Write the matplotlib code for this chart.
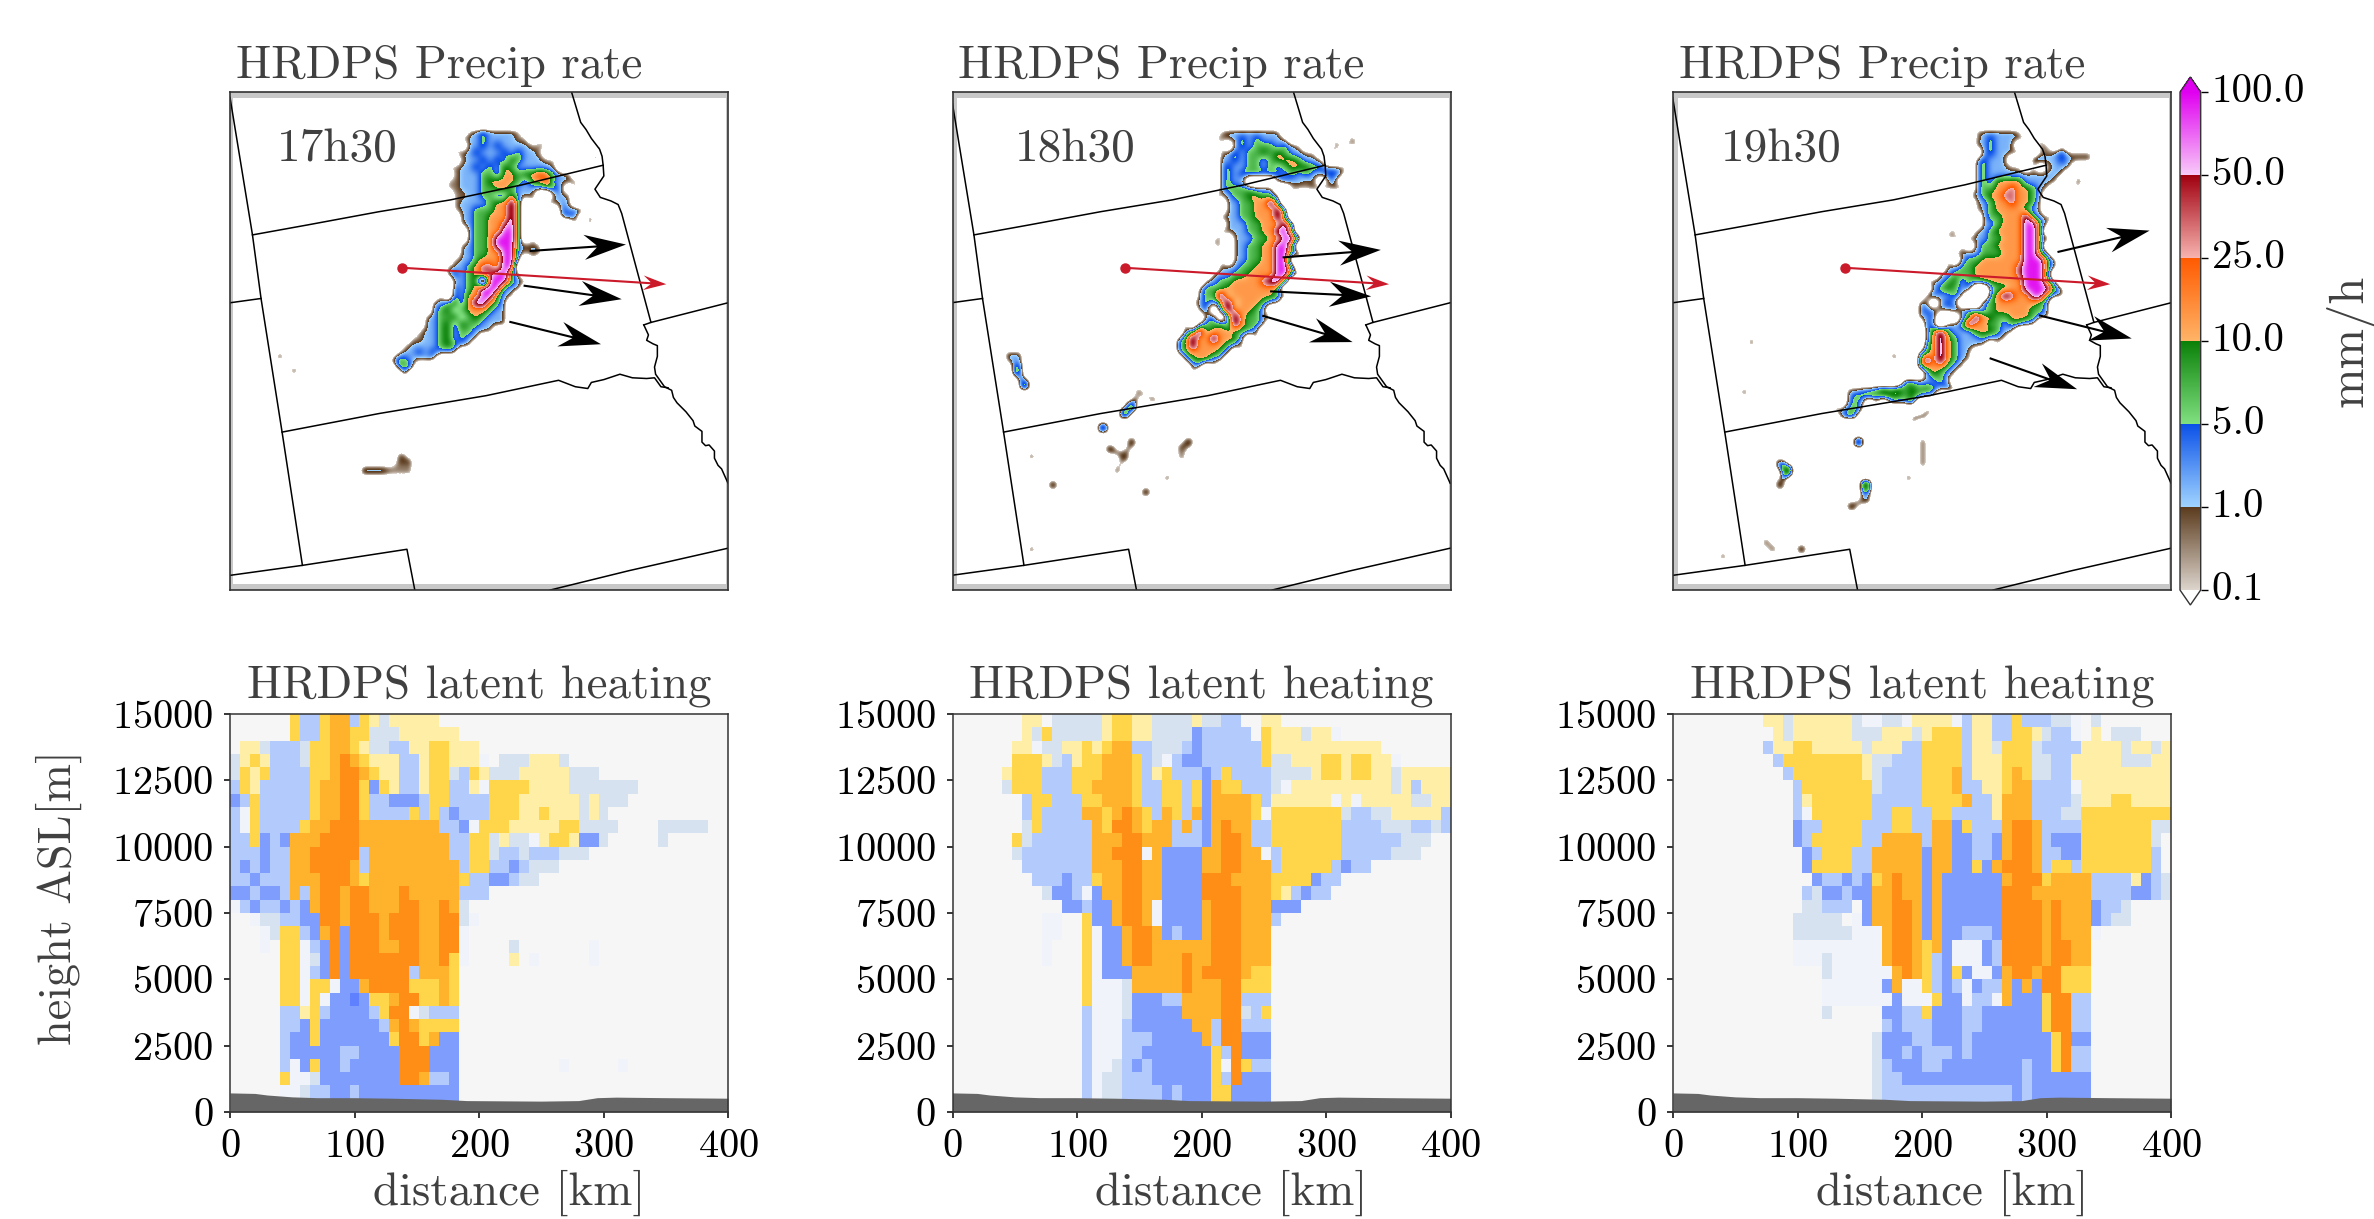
import numpy as np
import matplotlib
matplotlib.use("Agg")
import matplotlib.pyplot as plt
from matplotlib.colors import LinearSegmentedColormap, ListedColormap, BoundaryNorm, Normalize
from matplotlib.cm import ScalarMappable
from matplotlib.patches import Rectangle
from matplotlib.transforms import ScaledTranslation

plt.rcParams['font.family'] = ['cmr10', 'DejaVu Serif']
plt.rcParams['axes.formatter.use_mathtext'] = True

W, H = 2374, 1219
times = ["17h30", "18h30", "19h30"]
rate_labels = ["0.1", "1.0", "5.0", "10.0", "25.0", "50.0", "100.0"]
km_ticks = [0, 100, 200, 300, 400]
height_ticks = [0, 2500, 5000, 7500, 10000, 12500, 15000]

# terrain profile under the cross sections
terrain_km = [0, 20, 30, 50, 70, 100, 130, 170, 190, 250, 280, 295, 310, 350, 400]
terrain_m = [720, 700, 640, 570, 540, 540, 520, 480, 430, 410, 430, 540, 560, 540, 520]

# latent heating classes, one string per 500 m from the top, one char per 8 km
heat_levels = ".abcdefghi"
heat_colors = ["#f6f6f6", "#f0f3f9", "#d6e2f0", "#b3cafc", "#7f9dfd", "#5f80ff",
               "#ffefa6", "#ffd54a", "#ffb22c", "#ff8e16"]

heat_1 = [
    "..... .gccg hhcgf bffff f.... ..... ..... ..... ..... .....",
    "..... .gccg hhggb bbfff fff.. ..... ..... ..... ..... .....",
    ".ffbc ccbgg hhgfb bccff ggfff ..... ..... ..... ..... .....",
    "bfgfc ccbgg hihgf ffccf ggfff a.bbb fffb. ..... ..... .....",
    "bgfgc cccgg hiihg ffccf ggbcg fbbbf ffffb bb... ..... .....",
    "cgfcc cccgh hiigd gfccf ggccf agggg ffffb bbbbb b.... .....",
    "dcgcc cccgh hiigc cdddc ggccc cgggf fffff bfbbb ..... .....",
    "cagcc cccgh hiigc cccgc gcdcc cgggf fgfff bfb.. ..... .....",
    "cagcc ccghh iiihh hhhhh hccda gggff fffgg bbbb. ...bb bbb..",
    "ccgdc dhhhi iiihh hhhhh hhccg gbfbb afggf ddb.. ...b. .....",
    "cccdc chhii iiich hhhhh hhccg gbccb cccbb b.... ..... .....",
    "cdcdc chhii iihch hhhhh hhhcg gccdc bbb.. ..... ..... .....",
    "ccdcc chhhi iihgh hhhhh hhhgc cddcb b.... ..... ..... .....",
    "ddcdd chchi ihiih hhihh hhhcc c.... ..... ..... ..... .....",
    "acdcc dcdhi ihiih hhiih hihb. ..... ..... ..... ..... .....",
    "..abb ccddi ihiii hiiih hiiba ..... ..... ..... ..... .....",
    "...ab ggcdh idiii hiiih hiia. ..... ..... ..... ..... .....",
    "...a. ggacd idiii hhiih hiia. ...b. ..... .a... ..... .....",
    "..... ggabd idiii iiiih higa. ...f. a.... .a... ..... .....",
    "..... ggacd idiii iiich hhg.. ..... ..... ..... ..... .....",
    "..... ggagg addhi iiigg ghg.. ..... ..... ..... ..... .....",
    "..... ggaga ddedg ghiig ghg.. ..... ..... ..... ..... .....",
    "..... ccfgc ddddc giiab ccc.. ..... ..... ..... ..... .....",
    "..... ccdgd ddddd chihg ggg.. ..... ..... ..... ..... .....",
    "..... cddgd ddddd dgiig hdd.. ..... ..... ..... ..... .....",
    "..... cdddd dccdd ddiii ddd.. ..... ..... ..... ..... .....",
    "..... cadgd dcddd ddiii ddd.. ..... ...a. ....a ..... .....",
    "..... gaabd ddddd ddiih ccd.. ..... ..... ..... ..... .....",
    "..... aabcc ddcdd ddddd ddd.. ..... ..... ..... ..... .....",
    "..... aabcc ddcdd ddddd ddd.. ..... ..... ..... ..... .....",
]

heat_2 = [
    "..... ..ff. bbbbb fggff bbbbf bbcc. .ff.. ..... ..... .....",
    "..... ..fbg bbbbb fggff bbbbd ccccc .gfff bffa. ..... .....",
    "..... .ffab bffgf ghhcc bbbcd ccccc cgfff fffff fff.. .....",
    "..... .gggf bcfgg hhhgc bacdd ccccc cgbbf ffggf ggffa .....",
    "..... fgggc ccggg hhhgc fgccc dcgcc ccbbb bfggf ggffb fffff",
    "..... bgggc ccggh hhhgc cggcg dhggc ccbaf fffff ffffb fcfff",
    "..... ..cgg cccgg hhhgc cggcg dhhhh gcfff fffaf affff fbbff",
    "..... ..cgc ccchh ghihg chgch dhhhh gaggg ggggb ccbbf ffffc",
    "..... ..bgc cccch giihg hhchc dhihh ccggg ggggc cccbb bccbc",
    "..... .gbcc cccch hhiih hhccc dhiih ccggg ggggc ccccc bbb..",
    "..... .bccc cccch hiiia hdddd hhiih hacgg ggggc ccccb bb...",
    "..... ..ccc cccch hhiih hdddd hhiih hhcgg gggcd cc... .....",
    "..... ...cc cdccg hhiih hdddd iiihh hhggg gdcc. ..... .....",
    "..... ....b ddcad hhiih hdddd iiiih hhgfc dcc.. ..... .....",
    "..... ..... .ddcd dhiih adddd hiiih hhddd ..... ..... .....",
    "..... ....a a..gd dhiih adddd hiiih hhc.. ..... ..... .....",
    "..... ....a a..ga ddhii hdcdd hiiih hh... ..... ..... .....",
    "..... ....a ...ga ddhii hhhhh hiiih hh... ..... ..... .....",
    "..... ....a ...ga ddhii hhhih hiiih hh... ..... ..... .....",
    "..... ..... ...ga dddhh hhhih iiiih gg... ..... ..... .....",
    "..... ..... ...ga aabhh hhhih hhiig gg... ..... ..... .....",
    "..... ..... ...ga aabdd dcchh hhiic cc... ..... ..... .....",
    "..... ..... ...ca aabdd dddhh hhiib cg... ..... ..... .....",
    "..... ..... ...ca aacdd ddddh hciic cc... ..... ..... .....",
    "..... ..... ...ca aaccc ddddd hciid dd... ..... ..... .....",
    "..... ..... ...ca aaccd ddddd dgcid dd... ..... ..... .....",
    "..... ..... ...ca abcdc ddddd dgaig cc... ..... ..... .....",
    "..... ..... ...ca bbccc ddddd dgcid dd... ..... ..... .....",
    "..... ..... ...ca bbccc cdcdd dggdd dd... ..... ..... .....",
    "..... ..... ...ca bbccc cdcdd dggdd dd... ..... ..... .....",
]

heat_3 = [
    "..... ....f fbfff fffba abbaf fffac ffccg cccbb a.b.. .....",
    "..... ..... fbfff fffbb bfffb fgggc ffccg gfbcc a.f.b bb...",
    "..... ....c ffggf ffffb fffcc ggggc ffbgg gbccc cffff bffbf",
    "..... ..... cgggg ggggf bbccc ggggc fffgg gbbcc fffff bbbff",
    "..... ..... .cggg ggggf bcccc ggghc fffgh gbbcc fffff fffff",
    "..... ..... ..cgg ggggg bcccc ggghc cffgh hcccc affff fffff",
    "..... ..... ..cfg ggggg ccccc ggggh ccfhh hcccc bfffg gffff",
    "..... ..... ..cag ggggg ccggc cggcc ccfhh hcccb bgggg ggggg",
    "..... ..... ..dcc ggggc ccggc chhdg ccchi ihccc cgggg gggbb",
    "..... ..... ..dcg ggggc chhhh chhdd ccdhi ihcdd dgggg gggb.",
    "..... ..... ...dc gggcc hhhhh dhhdd ccdhi ihccd dgggg gggc.",
    "..... ..... ...dg gggcc hhhhh dhhdd gdhii ihcgg cgggg gggc.",
    "..... ..... ....d ccdcd ghihh dhddd dddhi iighh hhccc cfdcb",
    "..... ..... ...cb ddcdd hhihh dhddd dddii ihhhh hhccc cddcb",
    "..... ..... ...bb ccc.d hhiih dhddd dddii iihih hhdcc b....",
    "..... ..... ..bbb bb.ad hhiih dhddd dddii iihih hhdcb b....",
    "..... ..... ..bbb bbbaa ahiih dhddc ccdii iihih hha.. .....",
    "..... ..... ..aaa aaaaa ahiih ghdaa adcii iihii hh... .....",
    "..... ..... ..aaa baaaa ahiih gcdaa adcii iihii hh... .....",
    "..... ..... ..... baaaa aahih gcdgd aadhi ihiig gg... .....",
    "..... ..... ..... aaaaa adhaa gcdca dcchd hdiig gg... .....",
    "..... ..... ..... aaaaa aadaa agdda ccahd ddgii cc... .....",
    "..... ..... ..... b.... .ddcc gdddc cdddd ddgii cc... .....",
    "..... ..... ..... ..... .cdcc cdddc cdddd ddgii cc... .....",
    "..... ..... ..... ..... bdddc cdddc ddddd dddgi dd... .....",
    "..... ..... ..... ..... bddcd cccdc ddddd dddgi cc... .....",
    "..... ..... ..... ..... bcddd ccddd ddddd cddgi cc... .....",
    "..... ..... ..... ..... bccdd ddddd ddddd cdddd dd... .....",
    "..... ..... ..... ..... bcccc ccccc ccccd cdddd dd... .....",
    "..... ..... ..... ..... bcccc ccccc ccccd cdddd dd... .....",
]

# state borders, map coordinates of the first panel
border_lines = [
    ([82, 145, 169, 228, 285], [105, 490, 668, 1042, 1415]),
    ([145, 300, 500, 700, 900, 1128], [490, 462, 425, 392, 350, 295]),
    ([1040, 1050, 1065, 1080, 1095, 1118, 1125, 1128, 1130, 1105, 1120, 1150, 1170, 1180, 1262, 1478],
     [92, 125, 175, 195, 220, 250, 270, 295, 325, 362, 385, 395, 405, 430, 735, 680]),
    ([1242, 1262], [742, 735]),
    ([1242, 1255, 1250, 1268, 1280, 1280, 1272, 1275, 1300, 1320, 1325, 1335, 1360, 1380, 1385, 1405, 1405,
      1415, 1425, 1440, 1440, 1450, 1460, 1478],
     [742, 770, 785, 795, 800, 830, 860, 880, 915, 925, 945, 960, 985, 1010, 1025, 1040, 1070,
      1080, 1078, 1095, 1115, 1135, 1145, 1185]),
    ([228, 500, 800, 1003, 1050, 1085, 1095, 1130, 1175, 1210, 1250, 1272, 1290, 1310],
     [1042, 990, 940, 897, 915, 920, 903, 895, 880, 890, 892, 890, 915, 918]),
    ([82, 169], [680, 668]),
    ([82, 285, 578, 600], [1443, 1415, 1370, 1484]),
    ([980, 1200, 1478], [1484, 1430, 1367]),
]
border_shift = [0, -22, -18]

# frame of each map panel in map coordinates
map_xlim = [(82, 1478), (63, 1457), (65, 1460)]
map_ylim = (1484, 90)
white_left = [90, 75, 78]
white_right = [1472, 1453, 1455]
time_x = [218, 243, 203]

section_start = [(565, 582), (545, 582), (547, 582)]
section_end = [(1305, 628), (1285, 628), (1290, 628)]

wind_start = [
    [(922, 535), (905, 632), (865, 733)],
    [(987, 553), (952, 648), (930, 716)],
    [(1142, 538), (1090, 715), (952, 835)],
]
wind_end = [
    [(1192, 517), (1180, 670), (1122, 796)],
    [(1262, 532), (1235, 662), (1183, 790)],
    [(1400, 478), (1350, 780), (1197, 922)],
]

# precip rate classes on a 20 unit raster: . none, 0 trace, 1 light, 2 green,
# 3 orange, 4 red, 5 magenta
storm_1_origin = (520, 190)
storm_1 = [
    "...........01211110.....0",
    ".........00112111100.0...0",
    "......00.0.1121211110000...1.11",
    ".........0112111212110...1.1.1",
    "........0.01121213211100..1.11",
    "........0011212132111110",
    ".........01112213323343211",
    "........0011123333213341111",
    "........00111223321111221.1",
    ".........001122113111..111.1.1",
    ".........0111123352.0.1111",
    ".........0112223352.0...2121.2",
    "..........112233352.0...121.2",
    "..........112233452..0....1.2.1",
    "...........12233552.0.........1",
    ".........0.12235552.0",
    "........0.112235551110",
    ".......00.112233551011",
    "......00.0112333550.0",
    "......0.0112344355.1",
    "......0.12123445520.0",
    ".....0...1123.555211",
    ".........2123555211.....",
    ".......1.213355211....1",
    "......11231355321",
    "......12312333211",
    ".....112231232111",
    ".....112313221111",
    "....01123122111",
    "...0011231211",
    "..0111123211",
    ".011212111",
    "1221011",
    ".222",
    "..2",
]
spots_1 = [(205, 812, '0'), (238, 855, '0'), (545, 1085, '0'), (545, 1105, '1'), (565, 1105, '1'),
           (452, 1122, '1'), (492, 1128, '1'), (518, 1130, '0'), (555, 1135, '0'), (835, 630, '1')]

storm_2_origin = (640, 190)
storm_2 = [
    "........011111111.....1...0",
    ".......00112121110....1.1.00",
    "......0.0.1212221210..1.1000",
    "........01212232321100.10",
    "........112122123332110",
    "........1211221212333221100",
    "........121222222121211221",
    "........1211....121101.11.0",
    "........12222111..00011011",
    ".......0012233220.0.......00",
    ".......0.11223352",
    ".......0.112233352........0",
    "........1112233352........0...1",
    ".......0.1112233352.......0...1",
    "........01112233552.0.0.....0",
    ".......00.1112233552",
    ".......00.112233552",
    "........0.1122335521",
    "......0.0.11223355.1",
    "........11122333552",
    ".......1112233335520",
    "......112233334552",
    "...1.122233333332.1",
    ".....1225233333321",
    "....0121352333211",
    ".....12.2533321",
    "....1.12.2532211",
    "...1.1223153221",
    "...12523332221",
    "..1253353331.1",
    "..2253333210",
    "..12333321.0",
    "...123311.0",
    "....11.0.0",
    "....0",
]
spots_2 = [(205, 820, '1'), (225, 810, '1'), (232, 850, '2'), (245, 885, '2'), (565, 910, '0'), (605, 920, '0'),
           (520, 970, '2'), (550, 955, '2'), (470, 1020, '2'), (485, 1075, '1'), (545, 1060, '1'),
           (515, 1100, '1'), (510, 1130, '0'), (700, 1055, '1'), (675, 1065, '1'), (680, 1100, '0'),
           (650, 1150, '0'), (330, 1165, '1'), (590, 1190, '1'), (265, 1358, '0'), (270, 1095, '0')]

storm_3_origin = (470, 190)
storm_3 = [
    "......................0111110.0......1",
    "......................0121111000.......1",
    "......................112111...10.0",
    ".......................1211110.00120000",
    "......................12111...221121111",
    "......................1211100.0.0111",
    "......................1211111111111.0",
    ".................00...121333311111..11.0",
    "...................00.12233433210.1.1",
    ".....................01233443321..1.1",
    "......................0123343320.0...1",
    "....................0.0123333210.00",
    "....................00.12233352100",
    "...................0.0.1123335520",
    "..................00..1123333552",
    "..................0001112233355210",
    "....................0.1223333552",
    "...................01112223335521",
    "..................0.12233333355521",
    "..................1122333333455521",
    ".................1122233333345552",
    "...............0112312233333355521",
    "................123212..12233555521",
    "...............121121...23543355211",
    "..............11.121...2233333321",
    "..............1211121211233333221",
    "..............112...1253322333211",
    "...............21.1125332212211",
    "...............1352111333211",
    "...............135321112110",
    "...............235321110.0",
    "..............12353211...0.0",
    "..............25353210.0.0",
    "..............2333210.0",
    "...............13210.11",
    "............2211121",
    "....0011232323232121",
    "....1223233323211",
    "..1.121.1.1113",
    "..01221........11",
    "...122.......121",
    ".............1",
]
spots_3 = [(270, 770, '0'), (240, 910, '0'), (660, 810, '0'), (565, 1055, '2'), (755, 1040, '0'),
           (750, 1070, '0'), (735, 1105, '0'), (715, 1145, '0'), (350, 1115, '1'), (365, 1140, '3'),
           (350, 1180, '1'), (595, 1170, '3'), (575, 1200, '1'), (545, 1230, '1'), (295, 1335, '0'),
           (330, 1355, '0'), (398, 1358, '1'), (185, 1362, '0')]

rate_position = {'.': -4.0, '0': 0.55, '1': 1.25, '2': 2.45, '3': 3.3, '4': 4.6, '5': 5.9}

heat_grids = [heat_1, heat_2, heat_3]
storms = [storm_1, storm_2, storm_3]
storm_origins = [storm_1_origin, storm_2_origin, storm_3_origin]
storm_spots = [spots_1, spots_2, spots_3]

map_left = [230, 952.5, 1673]
panel_w = 498

precip_cmap = LinearSegmentedColormap.from_list("precip", [
    (0 / 6, "#dcd4cc"), (1 / 6, "#5a3a1c"),
    (1 / 6, "#a0d4ff"), (2 / 6, "#0a50e8"),
    (2 / 6, "#80e080"), (3 / 6, "#0a8008"),
    (3 / 6, "#ffb468"), (4 / 6, "#ff5a00"),
    (4 / 6, "#f8b4b0"), (5 / 6, "#a00010"),
    (5 / 6, "#f8ccf8"), (6 / 6, "#e000f0"),
], N=600)
precip_cmap.set_under((1, 1, 1, 0))
precip_cmap.set_over("#e000f0")
precip_norm = Normalize(0, 6)

heat_cmap = ListedColormap(heat_colors)
heat_norm = BoundaryNorm(np.arange(-0.5, len(heat_colors)), len(heat_colors))


def px_axes(left, top, width, height):
    return fig.add_axes([left / W, 1 - (top + height) / H, width / W, height / H])


def precip_raster(rows, origin, spots, xlim):
    step = 20
    nx = int((xlim[1] - xlim[0]) / step) + 1
    ny = int((map_ylim[0] - map_ylim[1]) / step) + 1
    grid = np.full((ny, nx), rate_position['.'])
    i0 = int(round((origin[0] - xlim[0]) / step))
    j0 = int(round((origin[1] - map_ylim[1]) / step))
    for j, row in enumerate(rows):
        for i, ch in enumerate(row):
            grid[j0 + j, i0 + i] = rate_position[ch]
    for x, y, ch in spots:
        jj = int(round((y - map_ylim[1]) / step))
        ii = int(round((x - xlim[0]) / step))
        grid[jj:jj + 2, ii:ii + 2] = rate_position[ch]
    ext = (xlim[0], xlim[0] + nx * step, map_ylim[1] + ny * step, map_ylim[1])
    return grid, ext


fig = plt.figure(figsize=(W / 100, H / 100), dpi=100)
text_col = "#404040"

for n in range(3):
    # top row: map with precip rate
    ax = px_axes(map_left[n], 92, panel_w, 498)
    xlim = map_xlim[n]
    ax.set_facecolor("#c8c8c8")
    ax.add_patch(Rectangle((white_left[n], 108), white_right[n] - white_left[n], 1358,
                           facecolor="white", edgecolor="none", zorder=0))
    grid, ext = precip_raster(storms[n], storm_origins[n], storm_spots[n], xlim)
    ax.imshow(grid, extent=ext, origin="upper", aspect="auto", cmap=precip_cmap, norm=precip_norm,
              interpolation="bicubic", interpolation_stage="data", zorder=1)
    for xs, ys in border_lines:
        ax.plot(np.array(xs) + border_shift[n], ys, color="black", lw=1.1, zorder=2)
    starts = np.array(wind_start[n], dtype=float)
    ends = np.array(wind_end[n], dtype=float)
    ax.quiver(starts[:, 0], starts[:, 1], ends[:, 0] - starts[:, 0], ends[:, 1] - starts[:, 1],
              angles="xy", scale_units="xy", scale=1, color="black", width=0.0042,
              headwidth=12, headlength=20, headaxislength=14, zorder=3)
    sx, sy = section_start[n]
    ex, ey = section_end[n]
    ax.quiver([sx], [sy], [ex - sx], [ey - sy], angles="xy", scale_units="xy", scale=1,
              color="#cb1a2a", width=0.0042, headwidth=7, headlength=11, headaxislength=7.5, zorder=4)
    ax.plot([sx], [sy], "o", color="#cb1a2a", ms=6.5, zorder=4)
    ax.text(time_x[n] - 5, 250, times[n], fontsize=34, color=text_col, va="center", zorder=5)
    ax.set_xlim(*xlim)
    ax.set_ylim(*map_ylim)
    ax.set_xticks([])
    ax.set_yticks([])
    for s in ax.spines.values():
        s.set_color("#333333")
        s.set_linewidth(1.2)
    ax.text(0.012, 1.028, "HRDPS Precip rate", transform=ax.transAxes, fontsize=33.8, color=text_col)

    # bottom row: latent heating cross section
    ax2 = px_axes(map_left[n], 714, panel_w, 398)
    cells = np.array([[heat_levels.index(ch) for ch in row.replace(" ", "").ljust(50, ".")[:50]]
                      for row in heat_grids[n]])
    x_edges = np.linspace(0, 400, cells.shape[1] + 1)
    y_edges = np.linspace(15000, 0, cells.shape[0] + 1)
    ax2.pcolormesh(x_edges, y_edges, cells, cmap=heat_cmap, norm=heat_norm, zorder=1)
    ax2.fill_between(terrain_km, 0, terrain_m, color="#666666", lw=0, zorder=2)
    ax2.set_xlim(0, 400)
    ax2.set_ylim(0, 15000)
    ax2.set_xticks(km_ticks)
    ax2.set_yticks(height_ticks)
    ax2.tick_params(labelsize=29, length=4, width=1.1, pad=8)
    ax2.set_xlabel("distance [km]", fontsize=33.8, color=text_col)
    ax2.xaxis.set_label_coords(0.5 + 30 / panel_w, -0.145)
    ax2.set_title("HRDPS latent heating", fontsize=33.7, color=text_col, pad=12)
    for s in ax2.spines.values():
        s.set_color("#333333")
        s.set_linewidth(1.1)
    if n == 0:
        ax2.set_ylabel("height ASL[m]", fontsize=33.3, color=text_col)
        ax2.yaxis.set_label_coords(-0.297, 0.538)

# the bar itself spans the map height, the end triangles stick out of it
tri = 15
cax = px_axes(2180, 92 - tri, 20.7, 498 + 2 * tri)
cb = fig.colorbar(ScalarMappable(norm=precip_norm, cmap=precip_cmap), cax=cax, extend="both",
                  extendfrac=tri / 498, ticks=range(7))
cb.ax.set_yticklabels(rate_labels)
cb.ax.tick_params(labelsize=29.5, length=5, width=1, pad=3)
for lab in cb.ax.get_yticklabels():
    lab.set_transform(lab.get_transform() + ScaledTranslation(0, 4 / 100, fig.dpi_scale_trans))
cb.outline.set_edgecolor("#333333")
cb.outline.set_linewidth(1)
fig.text(2350 / W, 1 - 341 / H, "mm/h", rotation=90, fontsize=35, color=text_col, ha="center", va="center")

fig.savefig("out.png", dpi=100)
